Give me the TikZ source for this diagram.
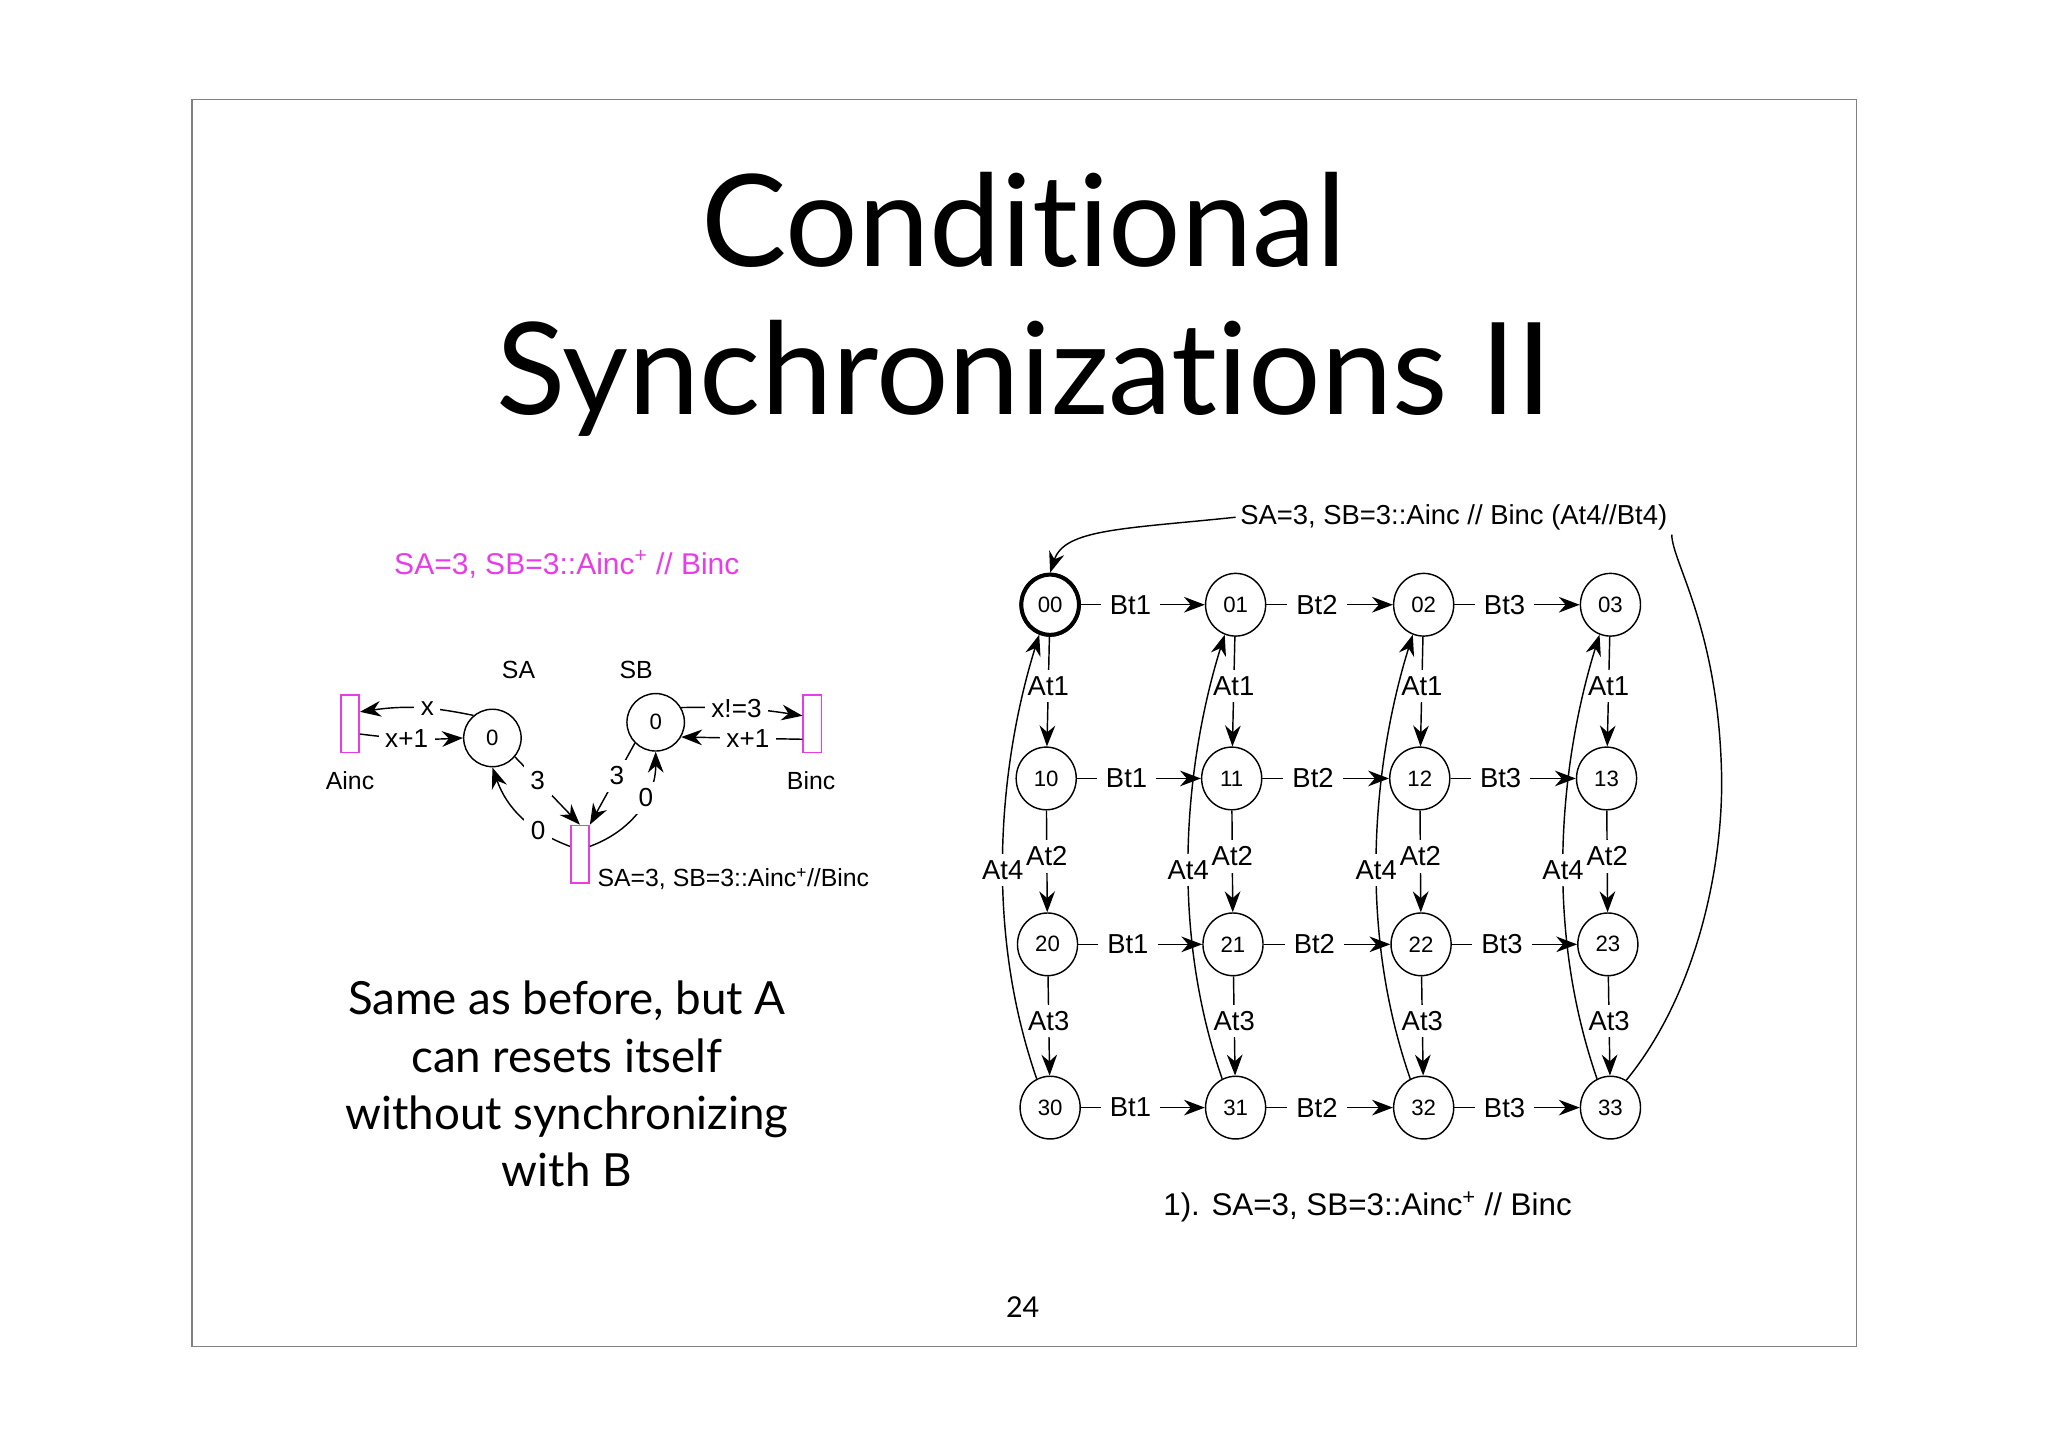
\documentclass[tikz,border=0pt]{standalone}
\usepackage{fontspec}
\setmainfont{Liberation Sans}
\newfontfamily\gill[Ligatures=NoCommon]{Lato}
\usetikzlibrary{arrows.meta,shapes.geometric}
\definecolor{pinkc}{RGB}{232,60,232}
\tikzset{
 st/.style={draw,line width=1.1pt,ellipse,minimum width=46pt,minimum height=48pt,inner sep=0pt,font=\fontsize{17}{20}\selectfont},
 lab/.style={fill=white,inner xsep=7pt,inner ysep=5pt,font=\fontsize{21}{24}\selectfont},
 sl/.style={fill=white,inner sep=5pt,font=\fontsize{20}{22}\selectfont},
 ar/.style={line width=1.1pt,-{Stealth[length=16pt,width=12pt]}},
 tr/.style={draw=pinkc,line width=1.2pt,minimum width=14pt,minimum height=44pt,inner sep=0pt},
}
\begin{document}
\begin{tikzpicture}[x=1pt,y=-1pt]
\useasboundingbox (0,0) rectangle (1568,1108);
\draw[gray,line width=0.8pt] (147,76) rectangle (1421,1031);
\node[font=\gill\fontsize{98}{110}\selectfont] (t1) at (784,168) {Conditional};
\node[font=\gill\fontsize{98}{110}\selectfont] (t2) at (784,290) {Synchronizations II};
\node[font=\gill\fontsize{22}{26}\selectfont] (pg) at (783,1001) {24};
% left
\node[text=pinkc,font=\fontsize{23}{26}\selectfont] (ptitle) at (434,432) {SA=3, SB=3::Ainc\textsuperscript{+} // Binc};
\node[st,minimum width=44pt,minimum height=44pt] (SA) at (377,565) {0};
\node[st,minimum width=44pt,minimum height=44pt] (SB) at (502,553) {0};
\node[tr] (Ai) at (268,554) {};
\node[tr] (Bi) at (622,554) {};
\node[tr] (T) at (444,654) {};
\node[font=\fontsize{19}{22}\selectfont] (lSA) at (397,513) {SA};
\node[font=\fontsize{19}{22}\selectfont] (lSB) at (487,513) {SB};
\node[font=\fontsize{19}{22}\selectfont] (lAi) at (268,598) {Ainc};
\node[font=\fontsize{19}{22}\selectfont] (lBi) at (621,598) {Binc};
\node[anchor=west,font=\fontsize{19}{22}\selectfont] (lT) at (454,673) {SA=3, SB=3::Ainc\textsuperscript{+}//Binc};
\draw[ar] (SA.130) to[bend right=10] node[sl,pos=0.4]{x} (Ai.east |- 0,545);
\draw[ar] (Ai.east |- 0,562) to[bend right=5] node[sl,pos=0.45]{x+1} (SA.west);
\draw[ar] (SA.-40) to node[sl,pos=0.35]{3} (T.north);
\draw[ar] (T.west |- 0,648) to[bend left=25] node[sl,pos=0.3]{0} (SA.south);
\draw[ar] (SB.-135) to node[sl,pos=0.4]{3} (T.north east);
\draw[ar] (T.east |- 0,648) to[bend right=35] node[sl,pos=0.62]{0} (SB.south);
\draw[ar] (SB.30) to[bend left=5] node[sl,pos=0.45]{x!=3} (Bi.west |- 0,548);
\draw[ar] (Bi.west |- 0,566) to node[sl,pos=0.45]{x+1} (SB.-30);
\node[font=\gill\fontsize{35}{44}\selectfont,align=center] (desc) at (434,830) {Same as before, but A\\can resets itself\\without synchronizing\\with B};
% right graph
\foreach \r/\y/\d in {0/463/0,1/596/3,2/723/2,3/848/0}{
 \foreach \c/\x in {0/804,1/946,2/1090,3/1233}{
  \node[st] (n\r\c) at (\x-\d,\y) {\r\c};
 }}
\draw[line width=3pt] (n00) ellipse (22pt and 23pt);
\foreach \r in {0,1,2,3}{
 \draw[ar] (n\r0) -- node[lab,pos=0.4]{Bt1} (n\r1);
 \draw[ar] (n\r1) -- node[lab,pos=0.4]{Bt2} (n\r2);
 \draw[ar] (n\r2) -- node[lab,pos=0.4]{Bt3} (n\r3);
}
\foreach \c in {0,1,2,3}{
 \draw[ar] (n0\c) -- node[lab,pos=0.45]{At1} (n1\c);
 \draw[ar] (n1\c) -- node[lab,pos=0.45]{At2} (n2\c);
 \draw[ar] (n2\c) -- node[lab,pos=0.45]{At3} (n3\c);
 \draw[ar] (n3\c.115) .. controls +(-45,-130) and +(-25,80) .. node[lab,pos=0.42,inner xsep=1pt]{At4} (n0\c.-110);
}
\node[font=\fontsize{21}{24}\selectfont] (big) at (1113,396) {SA=3, SB=3::Ainc // Binc (At4//Bt4)};
\draw[line width=1.1pt] (n33.60) .. controls (1300,760) and (1320,660) .. (1318,590) .. controls (1315,480) and (1280,430) .. (big.south east);
\draw[ar] (big.west) .. controls (860,405) and (815,405) .. (n00.north);
\node[font=\fontsize{24}{28}\selectfont] (cap) at (1047,924) {1). SA=3, SB=3::Ainc\textsuperscript{+} // Binc};
\end{tikzpicture}
\end{document}
